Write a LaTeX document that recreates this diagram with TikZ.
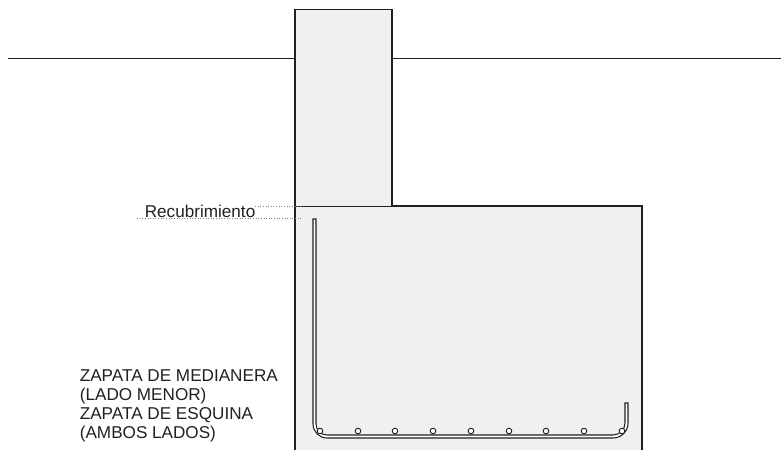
\documentclass[tikz,border=0pt]{standalone}
\usepackage{fontspec}
\setmainfont{Liberation Sans}
\definecolor{concrete}{HTML}{F0F0EF}
\definecolor{inkline}{HTML}{231F20}
\tikzset{
    wall/.style={draw=inkline, line width=1.1pt},
    thinline/.style={draw=inkline, line width=0.45pt},
    rebar/.style={draw=inkline, line width=0.6pt, fill=white},
    barpoint/.style={circle, draw=inkline, line width=0.5pt, fill=white, inner sep=0pt, minimum size=3.2pt},
    dimline/.style={draw=gray, line width=0.5pt, densely dotted},
    label/.style={text=inkline, font=\fontsize{9.75}{10.77}\selectfont, inner sep=0pt}
}
\begin{document}
\begin{tikzpicture}[x=0.02cm, y=-0.02cm]
        \useasboundingbox (0,0) rectangle (781,450);

        \coordinate (columnTL) at (295,9);
        \coordinate (columnTR) at (392,9);
        \coordinate (columnBL) at (295,206);
        \coordinate (columnBR) at (392,206);
        \coordinate (footingTR) at (642,206);
        \coordinate (footingBR) at (642,450);
        \coordinate (footingBL) at (295,450);
        \coordinate (groundL) at (8,58);
        \coordinate (groundA) at (296,58);
        \coordinate (groundB) at (392,58);
        \coordinate (groundR) at (781,58);

        \fill[concrete] (columnTL) -- (columnTR) -- (columnBR) -- (footingTR) -- (footingBR) -- (footingBL) -- cycle;

        \draw[thinline] (groundL) -- (groundA);
        \draw[thinline] (groundB) -- (groundR);
        \draw[thinline] (columnTL) -- (columnTR);
        \draw[thinline] (columnBL) -- (columnBR);
        \draw[wall] (columnTL) -- (footingBL);
        \draw[wall, line width=1.6pt] (columnTR) -- (columnBR) -- (footingTR) -- (footingBR);

        \draw[rebar] (313,219) -- (313,424) arc[start angle=180, end angle=90, radius=14]
            -- (613,438) arc[start angle=90, end angle=0, radius=15] -- (628,403) -- (625,403)
            -- (625,423) arc[start angle=0, end angle=90, radius=12] -- (327,435)
            arc[start angle=90, end angle=180, radius=11] -- (316,219) -- cycle;

        \foreach \x in {320,358,395,433,471,509,546,584,622}
            \node[barpoint] (bar\x) at (\x,431) {};

        \coordinate (coverA) at (255,206);
        \coordinate (coverB) at (301,206);
        \coordinate (coverC) at (137,218);
        \coordinate (coverD) at (301,218);
        \draw[dimline] (coverA) -- (coverB);
        \draw[dimline] (coverC) -- (coverD);

        \node[label, anchor=base west] (recubrimiento) at (144.5,217) {Recubrimiento};
        \node[label, anchor=base west, align=left] (zapata) at (79.5,438.5) {ZAPATA DE MEDIANERA\\(LADO MENOR)\\ZAPATA DE ESQUINA\\(AMBOS LADOS)};
    \end{tikzpicture}
\end{document}
